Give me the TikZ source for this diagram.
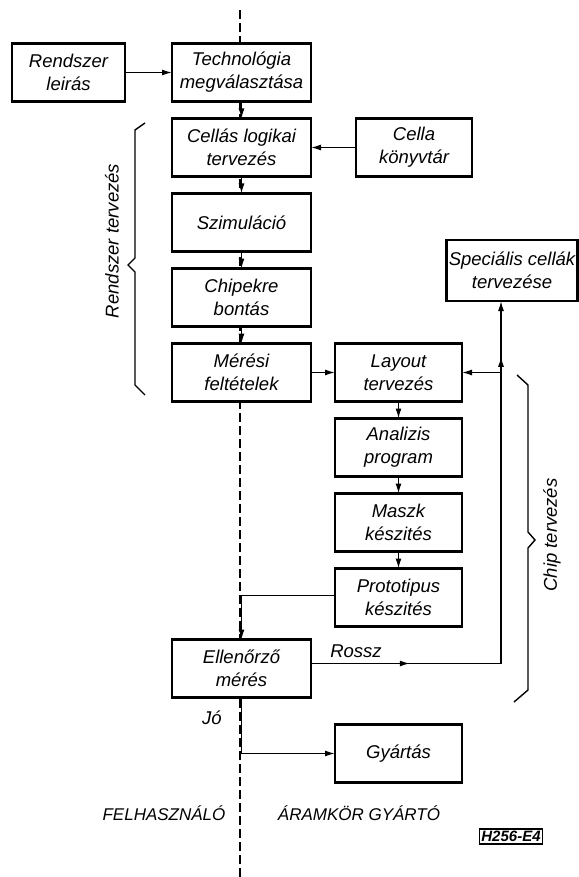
\documentclass[tikz,border=0pt]{standalone}
\usepackage{fontspec}
\setsansfont{Liberation Sans}
\usetikzlibrary{arrows.meta,positioning,decorations.markings}

\begin{document}
\begin{tikzpicture}[
    x=1pt, y=1pt,
    font=\sffamily\itshape\fontsize{18.5}{23}\selectfont,
    box/.style={draw, line width=2.6pt, fill=white, align=center, minimum height=58pt, minimum width=139pt, inner sep=2pt, outer sep=0pt},
    rbox/.style={box, minimum width=127pt},
    line/.style={line width=1.4pt},
    arrow/.style={line, -{Latex[length=10pt,width=6pt]}},
    midarrow/.style={postaction={decorate}, decoration={markings, mark=at position #1 with {\arrow{Latex[length=10pt,width=6pt]}}}},
    brace/.style={line width=1.4pt},
    side/.style={font=\sffamily\itshape\fontsize{17}{19}\selectfont},
    node distance=17pt
]
\useasboundingbox (0,0) rectangle (578,-877);

% dividing line
\coordinate (top) at (240,-10);
\coordinate (bottom) at (240,-877);
\draw[line width=1.5pt, dash pattern=on 9pt off 4pt] (top) -- (bottom);

% left column
\node[box] (techn) at (241.5,-72.5) {Technológia\\megválasztása};
\node[box, minimum width=113pt, left=47pt of techn] (leiras) {Rendszer\\leirás};
\node[box, below=of techn] (cellas) {Cellás logikai\\tervezés};
\node[box, minimum width=116pt, right=45pt of cellas] (konyvtar) {Cella\\könyvtár};
\node[box, below=of cellas] (szim) {Szimuláció};
\node[box, below=of szim] (chip) {Chipekre\\bontás};
\node[box, below=of chip] (meres) {Mérési\\feltételek};
\node[box, below=238pt of meres] (ell) {Ellenőrző\\mérés};

% right column
\node[rbox, right=24pt of meres] (layout) {Layout\\tervezés};
\node[rbox, below=of layout] (anal) {Analizis\\program};
\node[rbox, below=of anal] (maszk) {Maszk\\készités};
\node[rbox, below=of maszk] (proto) {Prototipus\\készités};
\node[rbox, below=98pt of proto] (gyartas) {Gyártás};
\node[box, minimum width=130pt, minimum height=61pt] (spec) at (512,-270.5) {Speciális cellák\\tervezése};

% flow
\draw[arrow] (leiras) -- (techn);
\draw[arrow] (techn) -- (cellas);
\draw[arrow] (konyvtar) -- (cellas);
\draw[arrow] (cellas) -- (szim);
\draw[arrow] (szim) -- (chip);
\draw[arrow] (chip) -- (meres);
\draw[arrow] (meres) -- (layout);
\draw[arrow] (layout) -- (anal);
\draw[arrow] (anal) -- (maszk);
\draw[arrow] (maszk) -- (proto);
\draw[arrow] ([yshift=2pt]proto.west) -| (ell.north);
\draw[arrow] (ell.south) |- (gyartas.west);

% rossz loop
\coordinate (rx) at (501,0);
\coordinate (rstart) at ([yshift=5pt]ell.east);
\coordinate (rcorner) at (rstart -| rx);
\coordinate (branch) at (rcorner |- layout.east);
\draw[line, midarrow=0.52] (rstart) -- (rcorner);
\draw[line] (rcorner) -- (branch);
\draw[arrow] (branch) -- (layout.east);
\draw[arrow, midarrow=0.22] (branch) -- (rcorner |- spec.south);

\node (rossz) at (356,-651) {Rossz};
\node (jo) at (212,-718) {Jó};

% braces
\draw[brace] (145,-123) -- (135,-130) -- (135,-258) -- (128,-265) -- (135,-272) -- (135,-385) -- (145,-395);
\node[rotate=90] (rtervezes) at (112,-241) {Rendszer tervezés};
\draw[brace] (517,-375) -- (528,-385) -- (528,-532) -- (535,-540) -- (528,-548) -- (528,-690) -- (514,-702);
\node[rotate=90] (ctervezes) at (552,-535) {Chip tervezés};

% bottom labels
\node[side] (felh) at (164,-813) {FELHASZNÁLÓ};
\node[side] (gyarto) at (359,-813) {ÁRAMKÖR GYÁRTÓ};
\node[draw, line width=1.6pt, inner sep=2pt, font=\sffamily\bfseries\itshape\fontsize{15}{15}\selectfont] (kod) at (511,-836.5) {H256-E4};
\end{tikzpicture}
\end{document}
